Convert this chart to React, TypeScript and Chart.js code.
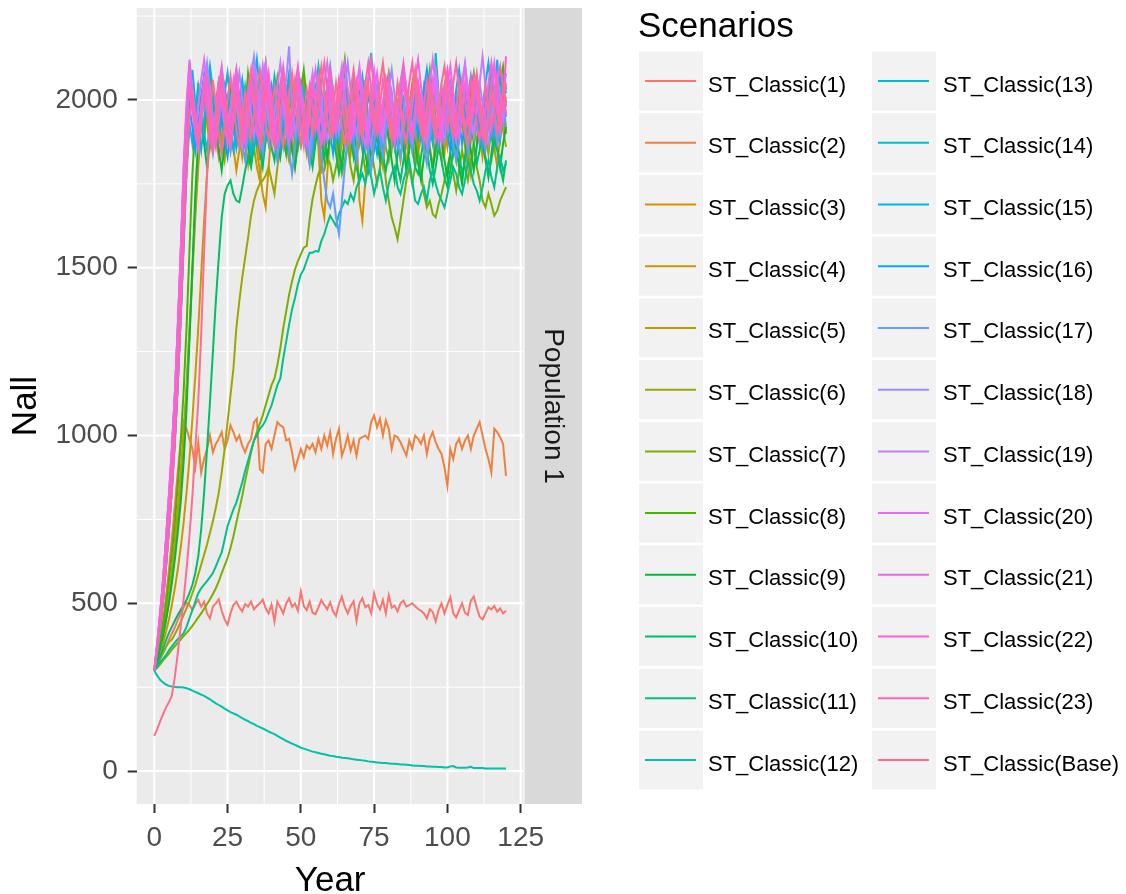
import React, { useEffect, useRef } from 'react';
import { Chart, registerables } from 'chart.js';
Chart.register(...registerables);

const YEARS = Array.from({ length: 121 }, (_, i) => i);
const X_TICKS = [0, 25, 50, 75, 100, 125];
const Y_TICKS = [0, 500, 1000, 1500, 2000];
const X_MINOR = [12.5, 37.5, 62.5, 87.5, 112.5];
const Y_MINOR = [250, 750, 1250, 1750, 2250];
const SCENARIOS = [
  'ST_Classic(1)', 'ST_Classic(2)', 'ST_Classic(3)', 'ST_Classic(4)', 'ST_Classic(5)', 'ST_Classic(6)',
  'ST_Classic(7)', 'ST_Classic(8)', 'ST_Classic(9)', 'ST_Classic(10)', 'ST_Classic(11)', 'ST_Classic(12)',
  'ST_Classic(13)', 'ST_Classic(14)', 'ST_Classic(15)', 'ST_Classic(16)', 'ST_Classic(17)', 'ST_Classic(18)',
  'ST_Classic(19)', 'ST_Classic(20)', 'ST_Classic(21)', 'ST_Classic(22)', 'ST_Classic(23)', 'ST_Classic(Base)',
];

const S1 = [
  300,318,335,352,370,392,410,428,450,470,
  488,502,495,480,498,510,490,505,470,455,
  490,500,512,478,452,436,470,495,505,488,
  476,498,490,505,482,492,500,511,485,470,
  496,446,505,488,470,499,515,490,500,478,
  535,492,480,505,472,468,488,510,495,482,
  503,476,462,498,520,489,470,492,506,447,
  500,515,488,495,470,530,498,482,510,470,
  524,487,493,476,500,508,490,495,500,491,
  483,478,470,455,482,474,446,480,500,470,
  495,518,470,458,480,500,472,465,508,520,
  488,460,452,470,488,482,492,475,485,470,
  478];
const S2 = [
  300,340,390,450,520,600,690,790,890,980,
  1040,1020,990,960,905,980,890,930,960,1000,
  950,975,990,1010,960,985,1030,1010,985,1000,
  970,950,975,990,1040,1050,900,890,975,985,
  960,1000,1040,1030,1025,985,990,950,900,930,
  960,935,970,960,975,950,990,960,1000,970,
  1010,945,990,1020,940,965,1000,955,985,940,
  990,995,1000,990,1040,1060,1025,1050,1000,1045,
  1020,960,1000,995,980,960,940,985,960,1000,
  990,975,1000,945,990,1010,980,960,945,905,
  850,960,930,975,990,960,985,1000,960,1000,
  1020,1040,1000,960,930,890,1020,1010,995,975,
  880];
const S3 = [
  300,330,365,405,450,505,570,650,740,850,
  980,1130,1300,1480,1650,1800,1930,1880,2010,1950,
  1890,1990,2060,1940,1850,1920,2030,1970,1880,1960,
  2040,1910,1860,1980,2070,1930,1820,1900,2010,1960,
  1870,1950,2060,1990,1900,1840,1960,2050,1920,1880,
  1990,2080,1940,1860,1930,2020,1960,1780,1890,2000,
  2050,1920,1850,1970,2040,1900,1860,1950,2030,1940,
  1870,1990,2060,1930,1880,1960,2010,1900,1830,1950,
  2040,1970,1880,1920,2000,1940,1860,1990,2050,1920,
  1850,1960,2030,1950,1880,1930,2010,1970,1890,1840,
  1940,2020,1960,1870,1920,2000,1950,1860,1930,2040,
  1980,1890,1850,1960,2030,1920,1870,1950,2010,1940,
  1900];
const S4 = [
  300,325,352,382,415,452,495,545,600,665,
  740,830,930,1050,1180,1320,1480,1640,1780,1880,
  1950,1900,1830,1880,1970,2010,1920,1860,1790,1850,
  1940,1880,1810,1900,1960,1850,1790,1720,1680,1800,
  1910,1980,1900,1850,1930,2000,1940,1870,1800,1880,
  1960,1900,1840,1920,1990,1930,1860,1700,1650,1780,
  1890,1960,1900,1830,1870,1950,2010,1920,1850,1900,
  1700,1640,1760,1850,1880,1950,1890,1830,1910,1970,
  1900,1850,1920,1990,1940,1870,1810,1890,1960,1910,
  1840,1900,1970,1920,1860,1800,1880,1940,1990,1920,
  1860,1930,1880,1820,1900,1960,1910,1850,1780,1870,
  1940,1890,1830,1910,1970,1920,1860,1800,1890,1950,
  1900];
const S5 = [
  300,335,375,420,470,530,600,685,780,890,
  1010,1150,1320,1500,1680,1820,1950,2010,1930,1860,
  1920,2000,1950,1870,1820,1900,1980,2040,1960,1890,
  1830,1910,1990,1940,1860,1800,1760,1850,1940,2010,
  1950,1880,1820,1900,1970,2030,1960,1890,1840,1920,
  2000,1950,1870,1810,1890,1960,2020,1940,1870,1930,
  1990,1920,1850,1800,1880,1950,1900,1840,1910,1980,
  2040,1960,1890,1840,1900,1970,1920,1850,1800,1890,
  1950,2010,1940,1870,1820,1900,1960,1910,1850,1930,
  1990,1920,1860,1900,1970,2030,1950,1880,1820,1900,
  1960,1900,1840,1910,1980,1930,1860,1800,1880,1950,
  2010,1940,1870,1930,1990,1920,1850,1900,1970,1910,
  1860];
const S6 = [
  300,318,336,352,370,385,392,408,425,445,
  465,485,505,530,555,585,615,645,675,710,
  745,785,830,890,960,1040,1120,1200,1320,1400,
  1470,1530,1590,1655,1700,1730,1750,1760,1775,1800,
  1760,1720,1800,1850,1900,1870,1820,1880,1930,1900,
  1860,1910,1950,1880,1830,1900,1960,1920,1870,1820,
  1890,1940,1880,1840,1910,1980,1910,1860,1920,1950,
  1870,1920,1970,1900,1840,1890,1940,1880,1930,1860,
  1820,1880,1930,1970,1900,1850,1910,1960,1890,1830,
  1900,1950,1870,1920,1970,1880,1840,1900,1950,1870,
  1930,1970,1900,1850,1920,1960,1880,1830,1890,1940,
  1870,1920,1970,1890,1840,1910,1950,1870,1920,1960,
  1900];
const S7 = [
  300,308,318,330,340,350,362,372,382,392,
  402,412,422,433,445,458,470,484,498,512,
  528,545,565,590,612,635,665,700,740,780,
  820,865,905,950,985,1010,1035,1060,1090,1120,
  1150,1170,1210,1260,1320,1370,1420,1460,1495,1520,
  1540,1560,1565,1645,1705,1745,1780,1800,1790,1830,
  1810,1760,1800,1850,1780,1820,1870,1800,1760,1830,
  1900,1850,1790,1820,1860,1800,1750,1800,1840,1760,
  1700,1650,1620,1585,1640,1700,1760,1800,1750,1800,
  1850,1790,1720,1680,1700,1660,1650,1690,1720,1760,
  1800,1840,1780,1730,1790,1850,1800,1760,1820,1870,
  1800,1760,1700,1680,1720,1690,1655,1670,1700,1720,
  1740];
const S8 = [
  300,340,385,440,500,570,650,740,850,980,
  1130,1320,1550,1780,1930,2050,1960,1880,2010,2090,
  1980,1900,1960,2060,2000,1910,1850,1940,2040,1990,
  1900,1960,2080,2020,1930,1870,1950,2050,2110,2010,
  1920,1980,2060,1990,1900,1950,2040,1970,1880,1940,
  2030,2090,2000,1920,1860,1950,2020,1960,1890,1970,
  2060,1990,1910,1970,2050,2120,2020,1940,1880,1960,
  2040,1980,1900,1850,1930,2010,1960,1880,1940,2030,
  2080,2000,1920,1970,2050,1990,1910,1860,1950,2020,
  1960,1890,1940,2020,2090,2010,1930,1880,1960,2040,
  1980,1900,1850,1930,2010,1950,1880,1940,2030,2080,
  2000,1930,1870,1950,2020,1960,1900,1970,2050,2100,
  2030];
const S9 = [
  300,330,365,405,450,500,560,630,710,800,
  920,1080,1280,1500,1720,1880,1950,1870,1800,1900,
  1980,1920,1850,1790,1870,1950,2020,1940,1860,1920,
  2000,1930,1870,1810,1890,1960,1900,1830,1880,1960,
  2030,1950,1880,1830,1900,1980,1920,1850,1800,1870,
  1940,2010,1950,1870,1910,1980,2040,1960,1880,1830,
  1900,1970,1920,1850,1800,1870,1940,1890,1830,1900,
  1960,1910,1840,1790,1860,1930,1880,1820,1870,1940,
  1880,1820,1760,1840,1910,1860,1790,1850,1920,1870,
  1810,1760,1830,1900,1850,1790,1860,1930,1880,1820,
  1770,1840,1910,1860,1800,1750,1830,1900,1850,1790,
  1860,1930,1880,1820,1770,1840,1900,1860,1800,1870,
  1920];
const S10 = [
  300,320,342,365,390,412,430,448,465,480,
  495,510,530,555,590,640,720,830,960,1100,
  1250,1400,1530,1650,1720,1745,1760,1720,1700,1695,
  1740,1790,1830,1800,1860,1900,1850,1800,1880,1920,
  1860,1820,1900,1950,1880,1840,1910,1970,1900,1860,
  1940,1980,1910,1850,1800,1870,1930,1880,1820,1900,
  1950,1890,1840,1780,1820,1880,1950,1900,1850,1800,
  1760,1820,1900,1860,1800,1850,1920,1880,1830,1790,
  1840,1900,1870,1800,1760,1820,1880,1920,1860,1800,
  1780,1830,1890,1850,1790,1750,1800,1860,1820,1770,
  1740,1790,1850,1900,1840,1780,1820,1880,1940,1870,
  1810,1850,1900,1830,1780,1820,1880,1850,1800,1760,
  1820];
const S11 = [
  300,312,325,335,346,360,372,383,393,402,
  411,430,455,480,505,530,545,556,566,578,
  590,610,632,652,690,730,755,780,800,830,
  860,895,925,955,985,1000,1020,1030,1045,1068,
  1090,1120,1150,1170,1230,1280,1330,1376,1410,1450,
  1480,1495,1520,1545,1545,1550,1548,1580,1600,1630,
  1655,1640,1625,1660,1680,1700,1690,1720,1700,1740,
  1760,1780,1750,1800,1770,1720,1760,1790,1740,1700,
  1750,1780,1800,1740,1720,1760,1790,1820,1760,1700,
  1690,1720,1740,1700,1760,1790,1750,1720,1700,1680,
  1720,1760,1800,1780,1740,1720,1760,1820,1790,1750,
  1730,1700,1740,1790,1820,1770,1740,1800,1830,1790,
  1810];
const S12 = [
  300,284,272,264,258,254,252,251,250,250,
  249,247,244,240,236,232,228,224,219,214,
  208,202,197,192,186,181,176,172,168,163,
  158,153,149,144,140,135,131,127,123,118,
  114,110,105,100,95,90,86,82,78,74,
  70,67,64,61,58,56,54,52,50,48,
  46,45,43,42,40,39,38,37,35,34,
  33,32,31,29,28,27,26,25,24,24,
  23,22,22,21,20,20,19,18,17,16,
  16,15,15,14,14,13,13,12,12,11,
  11,14,15,11,10,10,10,11,13,9,
  9,9,9,8,8,8,8,8,8,8,
  8];
const S13 = [
  300,360,430,510,610,720,840,980,1150,1350,
  1580,1800,1950,2030,1960,1890,1990,2070,2000,1920,
  1870,1960,2050,1990,1910,1980,2060,2010,1930,1880,
  1960,2040,1980,1900,1850,1940,2020,2090,2000,1930,
  1990,2070,2010,1940,1880,1960,2030,1970,1900,1950,
  2040,1980,1910,1860,1950,2030,2100,2020,1940,1990,
  2060,2000,1920,1870,1950,2020,1960,1900,1980,2050,
  1990,1920,1980,2060,2140,2030,1950,1900,1970,2040,
  1980,1910,1860,1940,2010,1960,1890,1950,2030,1970,
  1900,1960,2040,1990,1920,1870,2140,2020,1970,1910,
  1980,2050,1990,1930,1880,1960,2030,1970,1900,1950,
  2020,1960,1890,1940,2010,2070,2000,1930,1880,1960,
  2000];
const S14 = [
  300,360,430,510,610,720,840,980,1150,1350,
  1560,1780,1930,1870,1960,2040,1980,1900,1850,1930,
  2010,1950,1880,1940,2020,2080,1990,1910,1860,1950,
  2030,1970,1890,1840,1920,2000,2060,1990,1920,1870,
  1940,2010,1950,1880,1930,2000,2070,2010,1940,1890,
  1960,2030,1980,1910,1850,1920,1990,1940,1880,1950,
  2020,1960,1890,1950,2030,2090,2010,1930,1880,1940,
  2000,1950,1890,1840,1910,1980,2040,1970,1900,1960,
  2030,1980,1910,1860,1930,2000,1950,1880,1940,2010,
  1950,1880,1940,2010,2070,2000,1930,1880,1950,2020,
  1970,1910,1850,1920,1990,2050,1980,1910,1960,2030,
  1980,1910,1860,1930,2000,1950,1890,1940,2010,2060,
  1980];
const S15 = [
  300,370,450,540,650,770,900,1050,1230,1440,
  1670,1880,2000,2090,1990,1910,1850,1940,2020,2100,
  2030,1950,1890,1960,2040,1980,1900,1850,1920,2000,
  2060,1990,1920,1970,2050,2120,2030,1950,1890,1960,
  2040,1980,1910,1860,1940,2010,2080,2000,1930,1980,
  2050,1990,1920,1870,1950,2030,1970,1900,1960,2040,
  2100,2020,1940,1890,1970,2040,1980,1910,1860,1930,
  2010,2070,1990,1920,1970,2050,1990,1920,1870,1950,
  2020,1960,1890,1940,2010,2080,2010,1930,1880,1960,
  2040,1970,1900,1950,2030,1980,1910,1860,1940,2020,
  1960,1890,1950,2030,2090,2010,1940,1880,1960,2040,
  1990,1920,1970,2050,2110,2030,1950,2120,1980,2060,
  2020];
const S16 = [
  300,370,450,540,650,770,900,1050,1230,1440,
  1650,1860,1980,1920,1850,1930,2010,2070,1990,1910,
  1860,1940,2020,1960,1880,1830,1910,1990,2050,1980,
  1910,1860,1930,2010,1950,1880,1940,2020,2090,2010,
  1930,1870,1950,2030,1970,1900,1850,1920,2000,2060,
  1990,1920,1860,1940,2020,1960,1890,1950,2030,1970,
  1900,1840,1920,2000,1940,1870,1930,2010,2070,1990,
  1920,1860,1940,2020,1960,1890,1840,1910,1990,2050,
  1980,1910,1860,1930,2010,1950,1880,1940,2020,1960,
  1890,1950,2030,2090,2010,1930,1880,1950,2030,1970,
  1900,1850,1920,2000,1940,1870,1930,2010,2070,2000,
  1920,1870,1940,2020,1960,1890,1950,2030,2080,2010,
  1950];
const S17 = [
  300,360,430,510,610,720,840,980,1150,1350,
  1580,1800,1940,2020,1950,1870,1930,2010,1960,1890,
  1840,1910,1990,2050,1970,1900,1850,1930,2000,1940,
  1870,1820,1900,1980,2040,1960,1890,1840,1920,2000,
  1950,1880,1820,1900,1970,1910,1850,1780,1860,1940,
  2010,1940,1870,1810,1890,1960,1900,1830,1760,1700,
  1680,1720,1650,1600,1700,1800,1870,1940,1880,1820,
  1900,1970,1910,1850,1790,1870,1940,1890,1830,1900,
  1960,2020,1950,1880,1830,1900,1970,1910,1850,1920,
  1990,1930,1860,1810,1880,1950,2010,1940,1870,1930,
  2000,1940,1870,1820,1890,1960,1900,1840,1910,1980,
  2040,1970,1900,1850,1920,1990,1930,1870,1940,2000,
  1920];
const S18 = [
  300,380,470,570,690,820,960,1120,1320,1540,
  1780,1960,2100,2020,1940,1880,1960,2040,2110,2030,
  1950,1890,1970,2050,1990,1920,1860,1940,2020,2080,
  2000,1930,1990,2070,2130,2050,1970,1910,1980,2060,
  2000,1930,1870,1950,2030,2060,2160,1970,1900,1960,
  2040,1980,1910,1850,1930,2010,2070,1990,1920,1880,
  1950,2030,1970,1900,1960,2040,2110,2030,1950,1890,
  1960,2040,1980,1910,1860,1940,2020,1960,1890,1950,
  2030,2090,2010,1940,1880,1960,2040,1980,1910,1960,
  2040,1980,1910,1860,1940,2020,2080,2000,1930,1880,
  1960,2040,1980,1910,1970,2050,2110,2030,1950,1900,
  1970,2050,1990,1920,1870,1950,2030,1970,1900,1960,
  2010];
const S19 = [
  300,380,470,570,690,820,960,1120,1320,1540,
  1790,1970,2120,2030,1950,1890,1970,2050,1990,1920,
  1870,1950,2030,2090,2010,1930,1980,2060,2000,1920,
  1860,1940,2020,1960,1890,1950,2030,2100,2020,1940,
  1880,1960,2040,2110,2030,1950,1900,1970,2050,1990,
  1910,1860,1940,2020,2080,2000,1920,1870,1950,2030,
  1970,1900,1960,2040,2100,2020,1940,1890,1970,2050,
  1990,1910,1860,1940,2020,2090,2010,1930,1880,1960,
  2040,1980,1910,1970,2050,2110,2030,1950,1900,1970,
  2050,1990,1920,1870,1950,2030,2090,2010,1930,1980,
  2060,2000,1930,1880,1960,2040,2100,2020,1940,1890,
  1970,2050,2130,2040,1960,1910,1990,2070,2010,1940,
  2000];
const S20 = [
  300,380,470,570,690,820,960,1120,1320,1540,
  1770,1950,2040,1970,1900,1980,2060,2120,2040,1960,
  1900,1970,2050,1990,1920,1870,1950,2030,2090,2010,
  1940,1880,1960,2040,1980,1910,1970,2050,2110,2030,
  1950,1900,1970,2050,1990,1920,1870,1950,2030,2090,
  2010,1930,1880,1960,2040,1980,1910,1970,2050,2110,
  2030,1950,1900,1980,2060,2000,1930,1880,1960,2040,
  2100,2020,1940,1890,1970,2050,1990,1920,1980,2060,
  2000,1930,1870,1950,2030,2090,2010,1930,1880,1960,
  2040,1980,1910,1970,2050,2120,2040,1960,1900,1980,
  2060,2000,1930,1880,1960,2040,2100,2020,1940,1990,
  2070,2010,1940,1890,1970,2050,2110,2030,1950,2020,
  2080];
const S21 = [
  300,380,470,570,690,820,960,1120,1320,1540,
  1800,1990,2110,2030,1950,1900,1980,2060,2000,1930,
  1880,1960,2040,2100,2020,1940,1890,1970,2050,1990,
  1920,1870,1950,2030,2090,2010,1930,1990,2070,2010,
  1940,1890,1960,2040,2100,2020,1950,1890,1970,2050,
  1990,1920,1870,1950,2030,2090,2020,1940,1880,1960,
  2040,1980,1910,1970,2050,2110,2030,1950,1900,1980,
  2060,1990,1920,1870,1950,2030,2080,2000,1930,1990,
  2070,2010,1940,1890,1970,2050,1990,1920,1980,2060,
  2120,2040,1960,1900,1980,2060,2000,1930,1880,1960,
  2040,2100,2020,1940,1890,1970,2050,1990,1920,1980,
  2060,2000,1930,1880,1960,2040,2090,2010,1940,2000,
  2050];
const S22 = [
  300,370,450,540,650,770,900,1050,1230,1440,
  1680,1900,2050,1980,1900,1850,1930,2010,2070,1990,
  1910,1860,1940,2020,1960,1890,1950,2030,2090,2010,
  1930,1880,1960,2040,1980,1910,1860,1940,2020,2080,
  2000,1920,1870,1950,2030,1970,1900,1960,2040,2100,
  2020,1940,1890,1970,2050,1990,1920,1870,1950,2030,
  2090,2010,1930,1990,2070,2010,1940,1890,1970,2050,
  1990,1920,1980,2060,2120,2040,1960,1900,1980,2060,
  2000,1930,1880,1960,2040,2100,2020,1940,1890,1970,
  2050,1990,1920,1980,2060,2000,1930,1880,1960,2040,
  2090,2020,1950,1900,1980,2060,2000,1930,1990,2070,
  2010,1940,1890,1970,2050,2110,2030,1960,1910,1990,
  2130];
const S23 = [
  300,360,430,510,610,720,840,980,1150,1350,
  1580,1800,1950,2020,1940,1870,1950,2030,1970,1900,
  1850,1930,2010,2070,1990,1910,1860,1940,2020,1960,
  1890,1950,2030,2090,2010,1930,1880,1960,2040,1980,
  1910,1860,1940,2020,2080,2000,1920,1980,2060,2000,
  1930,1880,1960,2040,1980,1910,1970,2050,2110,2030,
  1950,1900,1980,2060,2000,1930,1880,1960,2040,1980,
  1910,1970,2050,2110,2030,1950,1900,1980,2060,2000,
  1930,1880,1960,2040,1980,1910,1970,2050,2110,2030,
  1950,1900,1980,2060,2000,1930,1880,1960,2040,1980,
  1910,1970,2050,2110,2030,1950,1900,1980,2060,2000,
  1930,1880,1960,2040,1980,1910,1970,2050,2100,2030,
  1960];
const SBASE = [
  105,125,148,170,190,205,225,280,350,430,
  510,600,700,820,960,1100,1300,1550,1780,1950,
  2060,1980,1900,1840,1920,2000,2070,1990,1910,1860,
  1940,2020,1960,1890,1950,2030,2090,2010,1930,1880,
  1960,2040,1980,1910,1860,1940,2020,2080,2000,1920,
  1870,1950,2030,1970,1900,1960,2040,2100,2020,1940,
  1890,1970,2050,1990,1920,1870,1950,2030,2090,2010,
  1930,1880,1960,2040,1980,1910,1970,2050,2110,2030,
  1950,1890,1970,2050,1990,1920,1870,1950,2030,2090,
  2010,1930,1880,1960,2040,1980,1910,1970,2050,2100,
  2020,1940,1890,1970,2050,1990,1920,1870,1950,2030,
  2080,2000,1920,1870,1950,2030,1970,1900,1960,2040,
  1990];

const SERIES = [S1, S2, S3, S4, S5, S6, S7, S8, S9, S10, S11, S12,
  S13, S14, S15, S16, S17, S18, S19, S20, S21, S22, S23, SBASE];

// ggplot2 hue palette (hcl, c = 100, l = 65)
function hcl(h: number, c: number, l: number): string {
  const WX = 95.047, WY = 100, WZ = 108.883;
  const den = WX + 15 * WY + 3 * WZ;
  const un = (4 * WX) / den, vn = (9 * WY) / den;
  const hr = (h * Math.PI) / 180;
  const U = c * Math.cos(hr), V = c * Math.sin(hr);
  const Y = WY * (l > 7.999592 ? Math.pow((l + 16) / 116, 3) : l / 903.3);
  const u = U / (13 * l) + un, v = V / (13 * l) + vn;
  const X = (9 * Y * u) / (4 * v);
  const Z = -X / 3 - 5 * Y + (3 * Y) / v;
  const x = X / 100, y = Y / 100, z = Z / 100;
  const g = (t: number) => {
    const s = t > 0.0031308 ? 1.055 * Math.pow(t, 1 / 2.4) - 0.055 : 12.92 * t;
    return Math.round(Math.min(1, Math.max(0, s)) * 255);
  };
  const r = g(3.240479 * x - 1.53715 * y - 0.498535 * z);
  const gg = g(-0.969256 * x + 1.875992 * y + 0.041556 * z);
  const b = g(0.055648 * x - 0.204043 * y + 1.057311 * z);
  return '#' + [r, gg, b].map((n) => n.toString(16).padStart(2, '0')).join('');
}
const COLORS = SCENARIOS.map((_, i) => hcl(15 + 15 * i, 100, 65));

const FONT = '"Liberation Sans", Arial, sans-serif';
const W = 1126, H = 894;
const PANEL_RIGHT = 523.6;
const STRIP = { x0: 524.5, x1: 582 };

const ggPlugin = {
  id: 'gg',
  beforeDraw(chart: any) {
    const { ctx, chartArea: a, scales } = chart;
    const xs = scales.x, ys = scales.y;
    ctx.save();
    ctx.fillStyle = '#FFFFFF';
    ctx.fillRect(0, 0, chart.width, chart.height);
    ctx.fillStyle = '#EBEBEB';
    ctx.fillRect(a.left, a.top, a.right - a.left, a.bottom - a.top);
    ctx.strokeStyle = '#FFFFFF';
    const vline = (px: number) => { ctx.beginPath(); ctx.moveTo(px, a.top); ctx.lineTo(px, a.bottom); ctx.stroke(); };
    const hline = (py: number) => { ctx.beginPath(); ctx.moveTo(a.left, py); ctx.lineTo(a.right, py); ctx.stroke(); };
    ctx.lineWidth = 1;
    X_MINOR.forEach((v) => vline(xs.getPixelForValue(v)));
    Y_MINOR.forEach((v) => hline(ys.getPixelForValue(v)));
    ctx.lineWidth = 2;
    X_TICKS.forEach((v) => vline(xs.getPixelForValue(v)));
    Y_TICKS.forEach((v) => hline(ys.getPixelForValue(v)));

    // facet strip
    ctx.fillStyle = '#D9D9D9';
    ctx.fillRect(STRIP.x0, a.top, STRIP.x1 - STRIP.x0, a.bottom - a.top);
    ctx.save();
    ctx.translate((STRIP.x0 + STRIP.x1) / 2 - 1, (a.top + a.bottom) / 2);
    ctx.rotate(Math.PI / 2);
    ctx.fillStyle = '#1A1A1A';
    ctx.font = `28px ${FONT}`;
    ctx.textAlign = 'center';
    ctx.textBaseline = 'middle';
    ctx.fillText('Population 1', 0, 0);
    ctx.restore();

    // axis titles
    ctx.fillStyle = '#000000';
    ctx.font = `35px ${FONT}`;
    ctx.textAlign = 'center';
    ctx.textBaseline = 'alphabetic';
    ctx.fillText('Year', (a.left + a.right) / 2, 891);
    ctx.save();
    ctx.translate(36, (a.top + a.bottom) / 2);
    ctx.rotate(-Math.PI / 2);
    ctx.fillText('Nall', 0, 0);
    ctx.restore();

    // legend
    ctx.textAlign = 'left';
    ctx.fillText('Scenarios', 638, 37);
    ctx.font = `22px ${FONT}`;
    SCENARIOS.forEach((name, i) => {
      const col = i < 12 ? 0 : 1;
      const row = i % 12;
      const cy = 81 + 61.73 * row;
      const kx = col === 0 ? 639 : 872;
      ctx.fillStyle = '#F2F2F2';
      ctx.fillRect(kx, cy - 29.5, 64, 59);
      ctx.strokeStyle = COLORS[i];
      ctx.lineWidth = 2;
      ctx.beginPath();
      ctx.moveTo(kx + 6, cy);
      ctx.lineTo(kx + 57, cy);
      ctx.stroke();
      ctx.fillStyle = '#000000';
      ctx.fillText(name, col === 0 ? 708 : 943, cy + 10.5);
    });
    ctx.restore();
  },
};

export default function App() {
  const ref = useRef<HTMLCanvasElement>(null);
  useEffect(() => {
    document.body.style.margin = '0';
    const tickFont = { family: FONT, size: 28 };
    const chart = new Chart(ref.current as HTMLCanvasElement, {
      type: 'line',
      data: {
        datasets: SERIES.map((arr, i) => ({
          label: SCENARIOS[i],
          data: arr.map((v, j) => ({ x: YEARS[j], y: v })),
          borderColor: COLORS[i],
          backgroundColor: COLORS[i],
          borderWidth: 2,
          pointRadius: 0,
          fill: false,
          tension: 0,
          order: SERIES.length - i,
        })),
      },
      options: {
        responsive: false,
        animation: false,
        devicePixelRatio: 1,
        events: [],
        layout: { padding: { left: 0, right: W - PANEL_RIGHT, top: 8, bottom: 0 } },
        plugins: { legend: { display: false }, tooltip: { enabled: false } },
        scales: {
          x: {
            type: 'linear',
            min: -6,
            max: 126,
            afterBuildTicks: (s: any) => { s.ticks = X_TICKS.map((v) => ({ value: v })); },
            afterFit: (s: any) => { s.height = 90; s.paddingLeft = 0; s.paddingRight = 0; },
            grid: { drawOnChartArea: false, drawTicks: true, tickLength: 9, tickWidth: 2, tickColor: '#333333' },
            border: { display: false },
            ticks: { autoSkip: false, maxRotation: 0, minRotation: 0, padding: 8, color: '#4D4D4D', font: tickFont, callback: (v: any) => String(v) },
          },
          y: {
            type: 'linear',
            min: -98,
            max: 2274,
            afterBuildTicks: (s: any) => { s.ticks = Y_TICKS.map((v) => ({ value: v })); },
            afterFit: (s: any) => { s.width = 136.7; s.paddingTop = 0; s.paddingBottom = 0; },
            grid: { drawOnChartArea: false, drawTicks: true, tickLength: 9, tickWidth: 2, tickColor: '#333333' },
            border: { display: false },
            ticks: { autoSkip: false, padding: 10, color: '#4D4D4D', font: tickFont, callback: (v: any) => String(v) },
          },
        },
      },
      plugins: [ggPlugin],
    } as any);
    return () => chart.destroy();
  }, []);
  return (
    <div style={{ position: 'absolute', left: 0, top: 0, width: W, height: H, background: '#fff' }}>
      <canvas ref={ref} width={W} height={H} style={{ display: 'block', width: W, height: H }} />
    </div>
  );
}
